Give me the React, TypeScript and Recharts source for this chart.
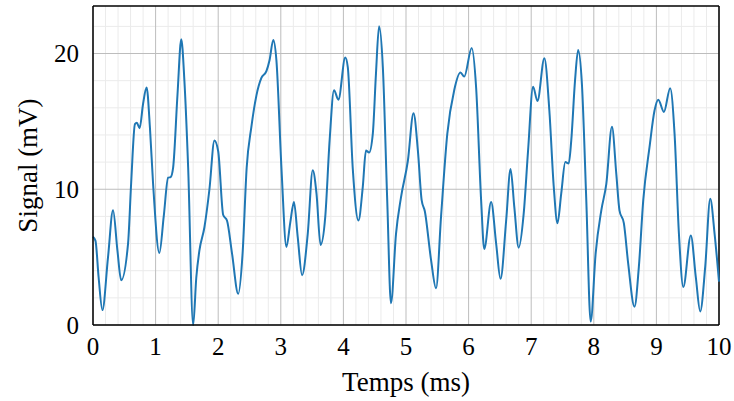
import { LineChart, Line, XAxis, YAxis, ReferenceLine } from "recharts";

const timeMs = [
  0, 0.04, 0.09, 0.15, 0.24, 0.32, 0.39, 0.45, 0.56, 0.61, 0.67, 0.7, 0.745, 0.8, 0.856, 0.91, 0.96,
  1.06, 1.13, 1.2, 1.24, 1.28, 1.35, 1.41, 1.46, 1.52, 1.6, 1.65, 1.7, 1.78, 1.86, 1.94, 2.0,
  2.08, 2.14, 2.22, 2.32, 2.39, 2.455, 2.53, 2.61, 2.69, 2.77, 2.82, 2.88, 2.93, 3.01, 3.09,
  3.15, 3.21, 3.27, 3.34, 3.43, 3.51, 3.57, 3.635, 3.71, 3.78, 3.85, 3.92, 4.03, 4.07, 4.15,
  4.24, 4.31, 4.36, 4.41, 4.47, 4.52, 4.57, 4.63, 4.7, 4.76, 4.84, 4.92, 5.03, 5.12, 5.19,
  5.25, 5.3, 5.4, 5.48, 5.56, 5.66, 5.77, 5.87, 5.93, 6.05, 6.12, 6.2, 6.25, 6.36, 6.44,
  6.51, 6.6, 6.67, 6.73, 6.8, 6.88, 6.95, 7.03, 7.1, 7.21, 7.29, 7.36, 7.42, 7.48, 7.545,
  7.6, 7.64, 7.7, 7.75, 7.81, 7.88, 7.95, 8.03, 8.12, 8.2, 8.29, 8.36, 8.41, 8.48, 8.55,
  8.65, 8.72, 8.79, 8.89, 8.97, 9.03, 9.12, 9.22, 9.29, 9.36, 9.43, 9.55, 9.63, 9.7, 9.78,
  9.86, 9.93, 10,
];

const signalMv = [
  6.5, 6.2, 3.5, 1.1, 5.0, 8.45, 5.5, 3.3, 6.0, 10.5, 14.8, 14.9, 14.5, 16.3, 17.5, 14.5, 10.4,
  5.3, 8.0, 10.85, 10.9, 11.6, 17.0, 21.05, 18.0, 11.6, 0.0, 3.5, 5.5, 7.2, 10.0, 13.6, 12.8,
  8.1, 7.7, 5.3, 2.3, 5.3, 11.6, 14.6, 16.9, 18.2, 18.7, 19.5, 21.0, 19.5, 11.6, 5.75,
  7.5, 9.06, 6.5, 3.67, 6.7, 11.4, 9.7, 5.9, 7.96, 13.6, 17.3, 16.6, 19.7, 19.0, 11.5,
  7.7, 10.2, 12.85, 12.7, 14.1, 18.5, 22.0, 19.0, 9.2, 1.6, 6.7, 9.4, 12.1, 15.6, 12.85,
  9.2, 8.4, 4.8, 2.7, 8.0, 14.1, 17.3, 18.6, 18.3, 20.4, 17.5, 9.2, 5.6, 9.06, 6.0,
  3.4, 7.7, 11.5, 8.7, 5.7, 8.2, 12.85, 17.55, 16.5, 19.65, 15.8, 10.2, 7.5, 9.7, 12.0,
  11.9, 13.6, 18.0, 20.25, 17.75, 9.2, 0.25, 5.3, 8.45, 10.4, 14.6, 11.1, 8.45, 7.5, 4.5,
  1.35, 4.3, 9.2, 13.1, 15.8, 16.6, 15.7, 17.45, 14.1, 6.7, 2.8, 6.6, 3.5, 1.0, 4.3,
  9.3, 6.7, 3.2,
];

const xTicks = [0, 1, 2, 3, 4, 5, 6, 7, 8, 9, 10];
const yTicks = [0, 10, 20];
const xMinor = Array.from({ length: 51 }, (_, i) => i / 5).filter((v) => !Number.isInteger(v));
const yMinor = [2, 4, 6, 8, 12, 14, 16, 18, 22];
const yMax = 23.5;

const data = timeMs.map((t, i) => ({ t, v: signalMv[i] }));

const font = "'Liberation Serif', 'Times New Roman', serif";
const tickStyle = { fill: "#000", fontSize: 25, fontFamily: font };
const labelStyle = { fill: "#000", fontSize: 27, fontFamily: font, textAnchor: "middle" as const };
const frame = { stroke: "#000", strokeWidth: 1.5 };

export default function App() {
  return (
    <div style={{ width: 734, height: 401, background: "#fff" }}>
      <style>{"html,body{margin:0;padding:0;overflow:hidden}"}</style>
      <LineChart width={734} height={401} data={data} margin={{ top: 6, right: 15, bottom: 5, left: 5 }}>
        {xMinor.map((x) => (
          <ReferenceLine key={"xm" + x} x={x} stroke="#ebebeb" strokeWidth={1} />
        ))}
        {yMinor.map((y) => (
          <ReferenceLine key={"ym" + y} y={y} stroke="#ebebeb" strokeWidth={1} />
        ))}
        {xTicks.map((x) => (
          <ReferenceLine key={"xM" + x} x={x} stroke="#bdbdbd" strokeWidth={1} />
        ))}
        {yTicks.map((y) => (
          <ReferenceLine key={"yM" + y} y={y} stroke="#bdbdbd" strokeWidth={1} />
        ))}
        <ReferenceLine x={10} stroke="#000" strokeWidth={1.5} />
        <ReferenceLine y={yMax} stroke="#000" strokeWidth={1.5} />
        <XAxis
          dataKey="t"
          type="number"
          domain={[0, 10]}
          ticks={xTicks}
          height={71}
          axisLine={frame}
          tickLine={false}
          tickMargin={6}
          tick={tickStyle}
          label={{ value: "Temps (ms)", position: "insideBottom", offset: 5, style: labelStyle }}
        />
        <YAxis
          type="number"
          domain={[0, yMax]}
          ticks={yTicks}
          width={88}
          axisLine={frame}
          tickLine={false}
          tickMargin={8}
          tick={tickStyle}
          label={{ value: "Signal (mV)", angle: -90, position: "insideLeft", offset: 22, style: labelStyle }}
        />
        <Line
          type="monotone"
          dataKey="v"
          stroke="#1f77b4"
          strokeWidth={2}
          dot={false}
          isAnimationActive={false}
        />
      </LineChart>
    </div>
  );
}
